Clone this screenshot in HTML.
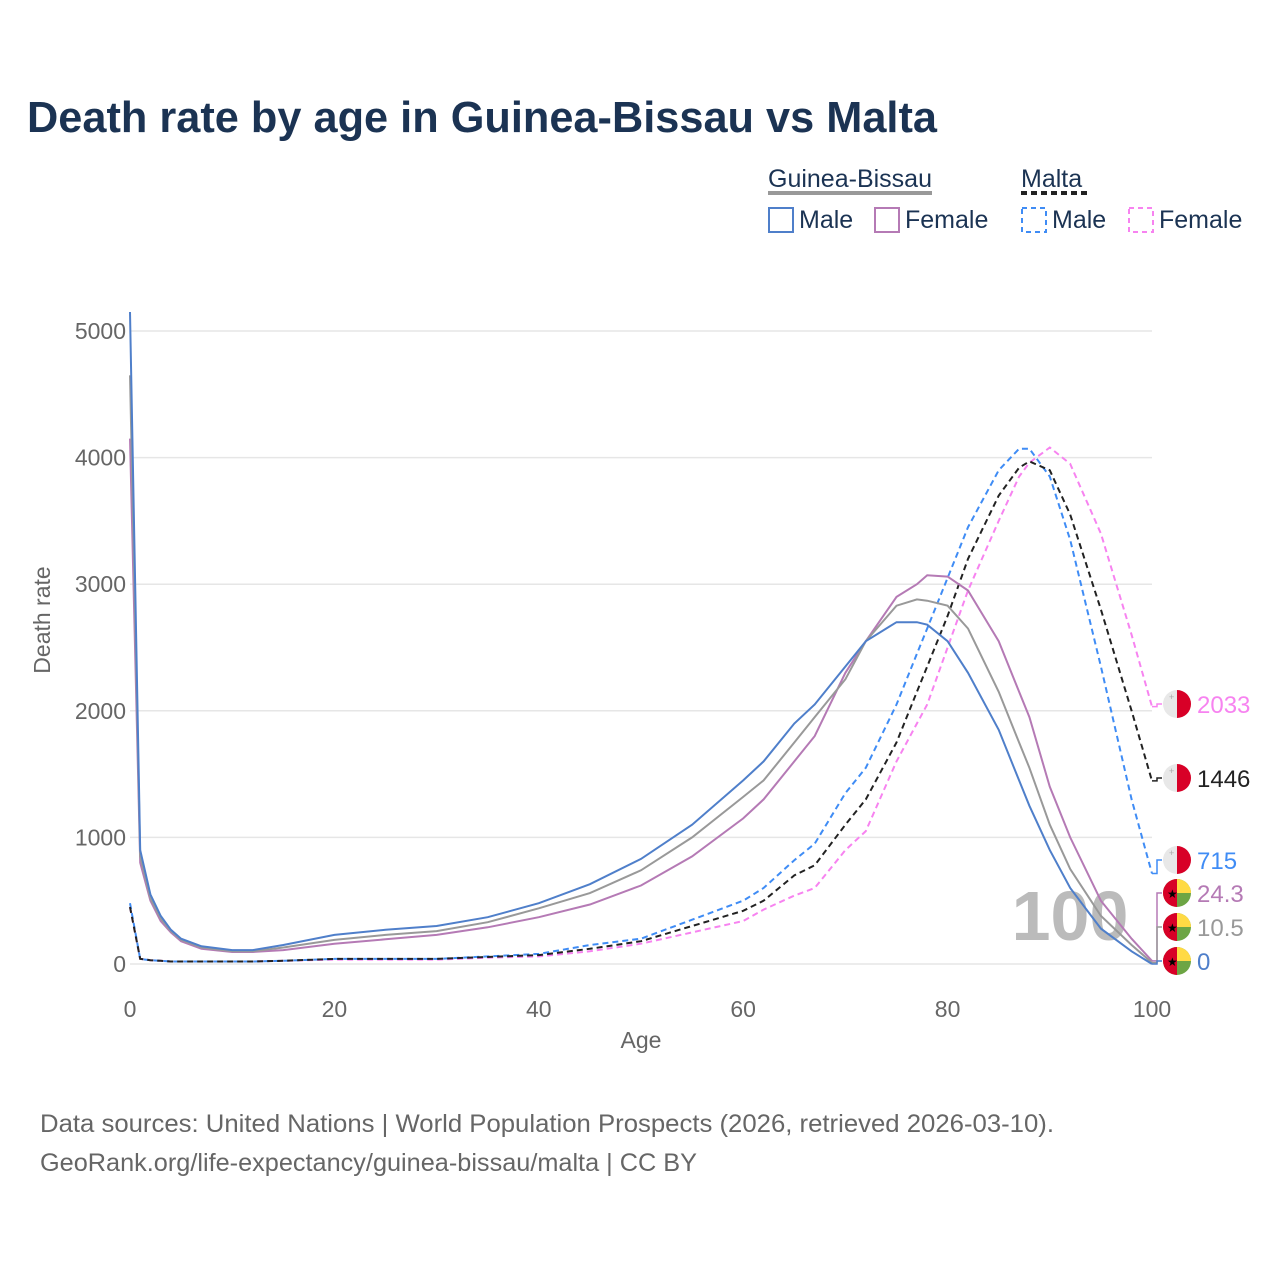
<!DOCTYPE html>
<html><head><meta charset="utf-8">
<style>
body{margin:0;background:#fff;font-family:"Liberation Sans",sans-serif;}
#wrap{position:relative;width:1280px;height:1280px;overflow:hidden;background:#fff;}
</style></head>
<body>
<div id="wrap">
<svg id="chart" width="1280" height="1280" xmlns="http://www.w3.org/2000/svg">
<text x="27" y="132" font-size="44" font-weight="bold" fill="#1b3353" textLength="910" lengthAdjust="spacingAndGlyphs" font-family="Liberation Sans, sans-serif">Death rate by age in Guinea-Bissau vs Malta</text>
<g font-size="25" fill="#1b3353">
<text x="768" y="187">Guinea-Bissau</text>
<line x1="768" y1="193" x2="932" y2="193" stroke="#999" stroke-width="4"/>
<text x="1021" y="187">Malta</text>
<line x1="1021" y1="193" x2="1087" y2="193" stroke="#222" stroke-width="4" stroke-dasharray="6,4"/>
<rect x="769" y="208" width="24" height="24" fill="none" stroke="#4f7fca" stroke-width="2"/>
<text x="799" y="228">Male</text>
<rect x="875" y="208" width="24" height="24" fill="none" stroke="#b57ab5" stroke-width="2"/>
<text x="905" y="228">Female</text>
<rect x="1022" y="208" width="24" height="24" fill="none" stroke="#3f8cf5" stroke-width="2" stroke-dasharray="5,4"/>
<text x="1052" y="228">Male</text>
<rect x="1129" y="208" width="24" height="24" fill="none" stroke="#f783f0" stroke-width="2" stroke-dasharray="5,4"/>
<text x="1159" y="228">Female</text>
</g>
<g id="grid"></g>
<text x="1070" y="940" font-size="70" font-weight="bold" fill="#bbb" text-anchor="middle">100</text>
<g id="lines"></g>
<g id="labels"></g>
<text x="641" y="1048" font-size="23" fill="#666" text-anchor="middle">Age</text>
<text transform="translate(50,620) rotate(-90)" font-size="23" fill="#666" text-anchor="middle">Death rate</text>
<text x="40" y="1132" font-size="25" fill="#666" textLength="1014" lengthAdjust="spacingAndGlyphs">Data sources: United Nations | World Population Prospects (2026, retrieved 2026-03-10).</text>
<text x="40" y="1171" font-size="25" fill="#666" textLength="657" lengthAdjust="spacingAndGlyphs">GeoRank.org/life-expectancy/guinea-bissau/malta | CC BY</text>
</svg>
</div>
<script>
const ages=[0,1,2,3,4,5,7,10,12,15,20,25,30,35,40,45,50,55,60,62,65,67,70,72,75,77,78,80,82,85,87,88,90,92,95,98,100];
const gbMale=[5150,900,550,380,270,200,140,110,110,150,230,270,300,370,480,630,830,1100,1450,1600,1900,2050,2350,2550,2700,2700,2680,2550,2300,1850,1450,1250,900,600,280,100,0];
const gbTotal=[4650,850,520,360,260,190,130,100,100,130,190,230,260,330,440,560,740,1000,1320,1450,1750,1950,2250,2550,2830,2880,2870,2830,2650,2150,1750,1550,1100,750,380,150,10.5];
const gbFemale=[4150,800,500,340,250,180,120,95,95,110,160,195,230,290,370,470,620,850,1150,1300,1600,1800,2300,2550,2900,3000,3070,3060,2950,2550,2150,1950,1400,1000,500,200,24.3];
const mtMale=[480,40,30,25,20,20,20,20,20,25,40,40,40,60,80,150,200,350,500,600,820,950,1350,1550,2050,2450,2650,3050,3450,3900,4070,4070,3850,3350,2350,1300,715];
const mtTotal=[450,40,30,25,20,20,20,20,20,25,40,40,40,55,70,120,180,300,420,500,700,780,1100,1300,1750,2150,2350,2750,3200,3700,3920,3970,3900,3550,2800,2000,1446];
const mtFemale=[450,40,30,25,20,20,20,20,20,25,35,35,35,50,60,100,160,250,340,430,540,600,900,1050,1600,1900,2050,2500,2950,3500,3850,3960,4080,3950,3400,2600,2033];
const xTicks=[0,20,40,60,80,100];
const yTicks=[0,1000,2000,3000,4000,5000];
const X=a=>130+a*10.22;
const Y=v=>964-v*0.1266;
const NS="http://www.w3.org/2000/svg";
const grid=document.getElementById('grid');
yTicks.forEach(t=>{
 const l=document.createElementNS(NS,'line');
 l.setAttribute('x1',130);l.setAttribute('x2',1152);l.setAttribute('y1',Y(t));l.setAttribute('y2',Y(t));
 l.setAttribute('stroke','#e6e6e6');l.setAttribute('stroke-width','1.5');
 
 
 grid.appendChild(l);
 const tx=document.createElementNS(NS,'text');
 tx.setAttribute('x',126);tx.setAttribute('y',Y(t)+8);tx.setAttribute('text-anchor','end');
 tx.setAttribute('font-size','23');tx.setAttribute('fill','#666');tx.textContent=t;
 
 
 grid.appendChild(tx);
});
xTicks.forEach(t=>{
 const tx=document.createElementNS(NS,'text');
 tx.setAttribute('x',X(t));tx.setAttribute('y',1017);tx.setAttribute('text-anchor','middle');
 tx.setAttribute('font-size','23');tx.setAttribute('fill','#666');tx.textContent=t;
 
 
 grid.appendChild(tx);
});
const lines=document.getElementById('lines');
function draw(vals,color,dash,name,w){
 const p=document.createElementNS(NS,'path');
 p.setAttribute('d',vals.map((v,i)=>(i?'L':'M')+X(ages[i]).toFixed(1)+','+Y(v).toFixed(1)).join(''));
 p.setAttribute('fill','none');p.setAttribute('stroke',color);p.setAttribute('stroke-width',w||2);
 if(dash)p.setAttribute('stroke-dasharray',dash);
 
 
 lines.appendChild(p);
}
draw(mtFemale,'#f783f0','6,4','line-malta-female');
draw(mtMale,'#3f8cf5','6,4','line-malta-male');
draw(mtTotal,'#222','6,4','line-malta-total');
draw(gbFemale,'#b57ab5',null,'line-gb-female');
draw(gbTotal,'#999',null,'line-gb-total');
draw(gbMale,'#4f7fca',null,'line-gb-male');
const labs=document.getElementById('labels');
const endLabels=[
 {v:mtFemale[ages.length-1],y:704,c:'#f783f0',f:'mt',n:'end-label-malta-female'},
 {v:mtTotal[ages.length-1],y:778,c:'#222',f:'mt',n:'end-label-malta-total'},
 {v:mtMale[ages.length-1],y:860,c:'#3f8cf5',f:'mt',n:'end-label-malta-male'},
 {v:gbFemale[ages.length-1],y:893,c:'#b57ab5',f:'gb',n:'end-label-gb-female'},
 {v:gbTotal[ages.length-1],y:927,c:'#999',f:'gb',n:'end-label-gb-total'},
 {v:gbMale[ages.length-1],y:961,c:'#4f7fca',f:'gb',n:'end-label-gb-male'}
];
endLabels.forEach(e=>{
 const ly=Y(e.v);
 const c=document.createElementNS(NS,'path');
 c.setAttribute('d',`M${X(100)},${ly} L1157,${ly} L1157,${e.y} L1162,${e.y}`);
 c.setAttribute('fill','none');c.setAttribute('stroke',e.c);c.setAttribute('stroke-width','1.5');
 
 
 labs.appendChild(c);
 const g=document.createElementNS(NS,'g');
 
 
 const cx=1177,cy=e.y,r=14;
 if(e.f==='mt'){
  g.innerHTML=`<circle cx="${cx}" cy="${cy}" r="${r}" fill="#e8e8e8"/><path d="M${cx},${cy-r} A${r},${r} 0 0 1 ${cx},${cy+r} Z" fill="#d80027"/><text x="${cx-8}" y="${cy-4}" font-size="9" fill="#aaa">+</text>`;
 }else{
  g.innerHTML=`<circle cx="${cx}" cy="${cy}" r="${r}" fill="#6da544"/><path d="M${cx},${cy-r} A${r},${r} 0 0 1 ${cx+r},${cy} L${cx},${cy} Z" fill="#ffda44"/><path d="M${cx},${cy-r} A${r},${r} 0 0 0 ${cx},${cy+r} Z" fill="#d80027"/><text x="${cx-10}" y="${cy+5}" font-size="12" fill="#000">★</text>`;
 }
 labs.appendChild(g);
 const t=document.createElementNS(NS,'text');
 t.setAttribute('x',1197);t.setAttribute('y',e.y+9);t.setAttribute('font-size','24');t.setAttribute('fill',e.c);
 t.textContent=e.v;
 
 
 labs.appendChild(t);
});
</script>
</body></html>
